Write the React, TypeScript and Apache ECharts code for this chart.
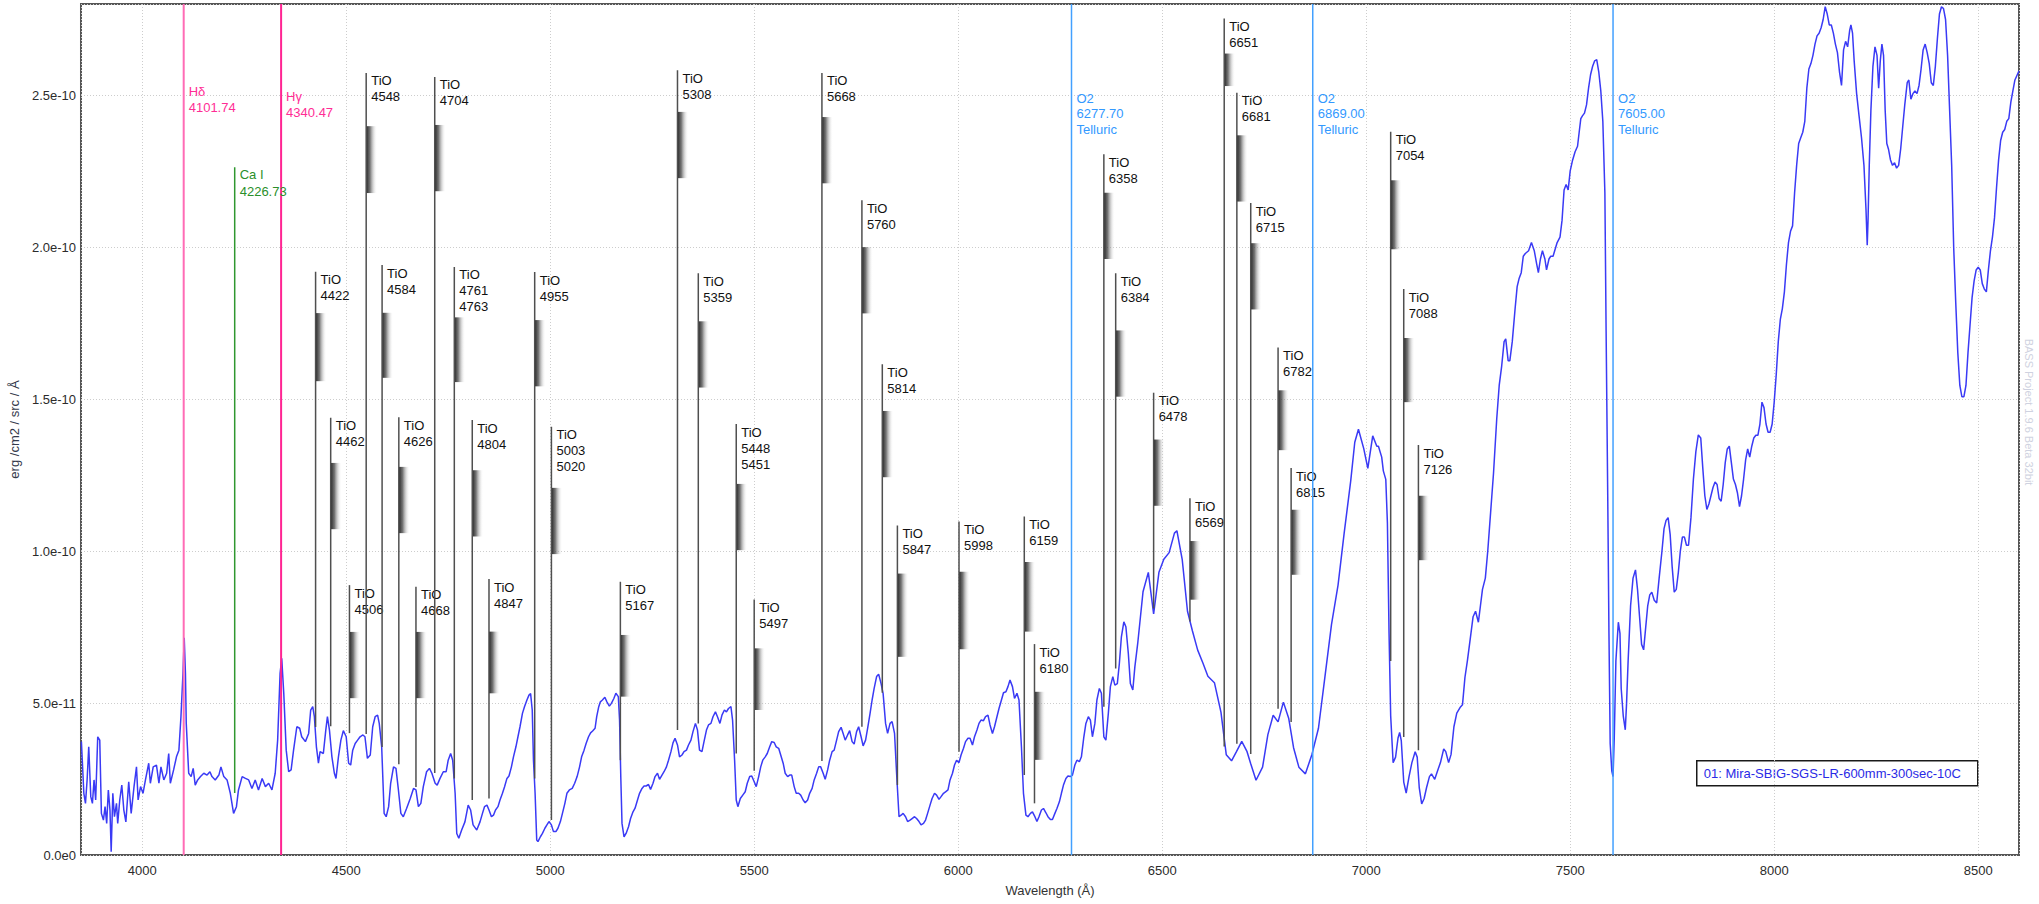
import React, { useEffect, useRef } from "react";
import * as echarts from "echarts";

// ---------- data ----------
const FLUX_UNIT = 1e-12; // flux values below are in units of 1e-12 erg/cm2/s/Å

const WAVELENGTH = [
  3851, 3857, 3861, 3865, 3869, 3874, 3878, 3882, 3886, 3891, 3896, 3900, 3905, 3909, 3913, 3917, 3921, 3924, 3928, 3932,
  3937, 3940, 3945, 3950, 3955, 3960, 3967, 3973, 3980, 3986, 3990, 3996, 4002, 4008, 4016, 4020, 4027, 4035, 4041, 4046,
  4053, 4060, 4065, 4069, 4077, 4084, 4090, 4095, 4100, 4103, 4106, 4108, 4114, 4120, 4125, 4130, 4136, 4143, 4151, 4159,
  4166, 4171, 4179, 4188, 4193, 4200, 4208, 4216, 4224, 4231, 4236, 4245, 4253, 4261, 4269, 4277, 4285, 4294, 4302, 4310,
  4318, 4326, 4332, 4338, 4342, 4347, 4353, 4359, 4365, 4371, 4379, 4386, 4391, 4400, 4408, 4413, 4418, 4422, 4427, 4432,
  4436, 4444, 4450, 4454, 4459, 4465, 4471, 4475, 4481, 4487, 4493, 4500, 4506, 4511, 4516, 4522, 4528, 4534, 4541, 4546,
  4552, 4559, 4565, 4571, 4577, 4581, 4587, 4593, 4598, 4604, 4609, 4616, 4622, 4628, 4634, 4640, 4648, 4657, 4665, 4671,
  4677, 4683, 4689, 4697, 4704, 4710, 4718, 4723, 4730, 4738, 4745, 4750, 4756, 4761, 4767, 4771, 4776, 4783, 4791, 4799,
  4805, 4811, 4820, 4828,
  4834, 4839, 4845, 4850, 4856, 4861, 4866, 4872, 4877, 4883, 4888, 4894, 4899, 4905, 4910, 4916, 4921, 4926, 4932, 4937,
  4943, 4948, 4952, 4956, 4959, 4963, 4967, 4970, 4976, 4981, 4987, 4992, 4997, 5003, 5008, 5014, 5019, 5025, 5030, 5036,
  5041, 5047, 5054, 5060, 5066, 5072, 5077, 5083, 5088, 5094, 5099, 5104, 5110, 5114, 5119, 5123, 5128, 5134, 5139, 5145,
  5150, 5156, 5161, 5167, 5170, 5173, 5176, 5181, 5186, 5192, 5197, 5203, 5208, 5214, 5219, 5225, 5230, 5235, 5241, 5246,
  5252, 5257, 5263, 5268, 5274, 5279, 5285, 5290, 5296, 5301, 5306, 5312, 5317, 5323, 5328, 5334, 5339, 5345, 5350, 5356,
  5361, 5366, 5372, 5377, 5383, 5388, 5394, 5399, 5405, 5410, 5416, 5421, 5427, 5432, 5437, 5443, 5447, 5452, 5456, 5460,
  5466, 5472, 5478, 5483, 5489, 5494, 5500, 5505, 5511, 5516, 5521, 5527, 5532, 5538, 5543, 5549, 5554, 5560, 5565, 5571,
  5576, 5582, 5587, 5592, 5598, 5603, 5609, 5614, 5620, 5625, 5631, 5636, 5642, 5647, 5653, 5658, 5663, 5669, 5674, 5680,
  5685, 5691, 5696, 5702, 5707, 5713, 5718, 5723, 5729, 5734, 5740, 5745, 5751, 5756, 5762, 5767, 5773, 5778, 5784, 5789,
  5794, 5800, 5805, 5811, 5816, 5822, 5827, 5833, 5838, 5844, 5849, 5855, 5860, 5865, 5871, 5876, 5882, 5887, 5893, 5898,
  5904, 5909, 5915, 5920, 5925, 5931, 5936, 5942, 5947, 5953, 5958, 5964, 5969, 5975, 5980, 5986, 5991, 5996, 6002, 6007,
  6013, 6018, 6024, 6029, 6035, 6040, 6046, 6051, 6056, 6062, 6067, 6073, 6078, 6084, 6089, 6095, 6100, 6106, 6111, 6117,
  6122, 6127, 6133, 6138, 6144, 6149, 6155, 6160, 6166, 6171, 6177, 6182, 6188, 6193, 6198, 6204, 6209, 6215, 6220, 6226,
  6231, 6237, 6242, 6248, 6253, 6258, 6264, 6269, 6275, 6280, 6286, 6291, 6297, 6302, 6308, 6313, 6319, 6324, 6329, 6335,
  6340, 6346, 6351, 6357, 6362, 6368, 6373, 6379, 6384, 6390, 6395, 6400, 6406, 6411, 6417, 6422, 6428, 6433, 6440,
  6453, 6466, 6479, 6492, 6504, 6517, 6530, 6536, 6549, 6562, 6574, 6587, 6600, 6612, 6628, 6644, 6657, 6670, 6682, 6695,
  6708, 6717, 6730, 6746, 6759, 6772, 6784, 6797, 6810, 6822, 6835, 6851, 6867, 6883, 6899, 6915, 6931, 6946, 6962, 6972,
  6981, 6994, 7004, 7016, 7026,
  7030, 7038, 7042, 7048, 7052, 7056, 7060, 7066, 7072, 7078, 7082, 7086, 7092, 7098, 7105, 7112, 7120, 7125, 7130, 7136,
  7142, 7148, 7155, 7160, 7168, 7175, 7182, 7190, 7195, 7202, 7208, 7215, 7222, 7230, 7236, 7242, 7248, 7255, 7262, 7268,
  7275, 7280, 7285, 7292, 7298, 7305, 7312, 7320, 7326, 7332, 7338, 7342, 7348, 7352, 7358, 7365, 7370, 7375, 7380, 7385,
  7390, 7398, 7405, 7412, 7418, 7422, 7427, 7432, 7438, 7442, 7448, 7452, 7458, 7462, 7468, 7475, 7480, 7485, 7490, 7495,
  7500, 7506, 7512, 7518, 7522, 7526, 7530, 7535, 7540, 7545, 7550, 7555, 7560, 7565, 7570, 7575, 7580, 7585, 7588, 7592,
  7595, 7598, 7602, 7605, 7608, 7612, 7618, 7622, 7625, 7630, 7635, 7638, 7642, 7648, 7654, 7660, 7665, 7670, 7675, 7680,
  7685, 7690, 7695, 7700, 7706, 7712, 7718, 7725, 7730, 7735, 7740, 7745, 7750, 7755, 7760, 7765, 7770, 7775, 7780, 7785,
  7790, 7796, 7802, 7808, 7814, 7820, 7825, 7830, 7835, 7840, 7845, 7850, 7855, 7860, 7865, 7870, 7875, 7880, 7885, 7890,
  7895, 7900, 7905, 7910, 7915, 7920, 7925, 7930, 7935, 7940, 7945, 7950, 7955, 7960, 7965, 7970, 7975, 7980, 7985, 7990,
  7995, 8000, 8005, 8010, 8015, 8020, 8025, 8030, 8035, 8040, 8045, 8050, 8055, 8060, 8065, 8070, 8075, 8080, 8085, 8090,
  8095, 8100, 8105, 8110, 8115, 8120, 8125, 8130, 8135, 8140, 8145, 8150, 8155, 8160, 8165, 8170, 8175, 8180, 8185, 8188,
  8192, 8196, 8202, 8208, 8214, 8220, 8225, 8228, 8230, 8233, 8237, 8242, 8247, 8252, 8256, 8260, 8264, 8268, 8272, 8276,
  8280, 8285, 8290, 8295, 8300, 8305, 8310, 8315, 8320, 8326, 8330, 8335, 8340, 8345, 8350, 8355, 8360, 8365, 8370, 8375,
  8380, 8385, 8390, 8395, 8400, 8405, 8410, 8415, 8420, 8425, 8430, 8435, 8440, 8445, 8450, 8455, 8460, 8465, 8470, 8475,
  8480, 8485, 8490, 8495, 8500, 8505, 8510, 8515, 8520, 8525, 8530, 8535, 8540, 8545, 8550, 8555, 8560, 8565, 8570, 8575,
  8580, 8585, 8590, 8596, 8600,
];

const FLUX = [
  37.3, 20.3, 17.0, 24.7, 35.6, 19.2, 17.0, 24.7, 18.1, 38.9, 37.8, 13.7, 11.5, 15.9, 10.4, 21.4, 14.8, 1.1, 20.3, 12.6,
  17.0, 10.4, 18.1, 23.0, 14.8, 10.9, 24.1, 13.7, 22.5, 29.0, 18.1, 22.5, 20.3, 24.7, 30.2, 23.6, 29.0, 29.6, 23.6, 29.0,
  24.7, 26.9, 33.4, 23.6, 28.0, 32.3, 34.5, 45.5, 59.8, 71.5, 59.8, 43.3, 26.9, 25.8, 28.5, 23.0, 24.7, 25.8, 26.9, 26.3,
  27.4, 25.8, 24.7, 26.3, 29.0, 25.8, 24.7, 20.3, 13.7, 15.9, 21.4, 25.8, 25.2, 24.7, 21.9, 24.7, 21.4, 25.2, 22.5, 23.6,
  21.4, 26.9, 37.8, 59.8, 64.7, 53.2, 34.5, 27.4, 28.0, 34.5, 42.2, 41.7, 38.9, 37.3, 40.0, 47.7, 48.8, 45.5, 35.6, 30.2,
  34.0, 33.4, 41.1, 45.5, 41.1, 32.3, 26.9, 25.2, 32.3, 37.8, 40.9, 38.9, 30.2, 29.6, 34.5, 36.7, 37.8, 38.9, 39.5, 38.9,
  31.8, 32.9, 42.2, 45.5, 46.0, 43.3, 35.6, 13.7, 12.6, 15.9, 23.6, 29.0, 28.5, 21.4, 13.7, 12.6, 15.3, 18.6, 21.9, 21.4,
  15.9, 17.0, 22.5, 27.4, 28.5, 26.9, 23.6, 23.0, 25.2, 27.4, 27.4, 31.2, 33.4, 31.2, 20.3, 7.1, 5.5, 8.2, 10.9, 16.4,
  14.8, 9.9, 8.2, 10.9,
  13.7, 15.9, 16.4, 14.8, 12.6, 13.1, 14.8, 15.9, 18.1, 20.3, 22.4, 25.2, 26.0, 29.0, 32.3, 35.6, 38.9, 42.2, 46.6, 48.8,
  51.0, 52.6, 53.1, 47.7, 31.2, 20.3, 4.9, 4.4, 6.0, 7.1, 8.8, 9.9, 11.0, 9.9, 7.7, 7.7, 8.8, 11.0, 13.7, 17.0,
  20.3, 21.4, 21.9, 23.6, 25.8, 29.0, 32.3, 34.5, 36.7, 38.9, 40.2, 40.8, 41.7, 45.5, 48.8, 50.4, 51.0, 51.9, 50.4, 49.0,
  49.9, 51.5, 53.2, 52.1, 44.4, 25.8, 10.4, 6.0, 7.1, 9.3, 12.0, 14.2, 15.4, 18.1, 20.3, 21.9, 22.7, 22.7, 23.2, 21.6,
  23.6, 25.8, 26.9, 24.9, 26.3, 27.4, 29.0, 31.2, 34.0, 36.9, 38.4, 36.2, 32.3, 32.9, 34.0, 34.5, 36.2, 37.8, 40.6, 43.3,
  41.1, 34.5, 34.0, 37.3, 41.1, 42.8, 43.3, 45.5, 47.1, 45.5, 43.3, 46.0, 47.7, 47.1, 48.2, 48.8, 44.4, 31.2, 18.1, 15.9,
  18.6, 19.7, 20.8, 23.6, 25.8, 26.0, 24.1, 22.5, 25.8, 29.0, 31.2, 32.3, 33.4, 35.6, 37.3, 37.0, 35.6, 35.1, 32.9, 30.2,
  26.9, 25.8, 26.3, 26.3, 22.5, 20.3, 20.3, 19.7, 18.1, 17.2, 18.1, 20.3, 21.9, 24.7, 26.9, 29.0, 29.0, 26.9, 24.9, 28.0,
  31.2, 34.0, 34.5, 37.8, 40.6, 42.0, 40.0, 37.8, 39.5, 40.9, 37.3, 36.5, 40.6, 42.2, 38.9, 35.9, 37.8, 41.7, 46.6, 51.0,
  54.8, 58.7, 59.5, 56.4, 53.1, 43.3, 40.0, 43.3, 43.9, 40.0, 26.9, 12.6, 13.1, 13.7, 12.6, 11.0, 11.5, 12.0, 12.6, 12.0,
  11.0, 9.9, 10.4, 11.5, 13.7, 16.4, 18.6, 20.3, 19.7, 18.3, 19.2, 20.3, 20.8, 21.4, 24.7, 26.9, 29.6, 31.2, 30.4, 32.9,
  35.1, 37.3, 38.4, 38.4, 36.2, 38.9, 41.1, 43.3, 44.4, 44.2, 45.5, 46.0, 42.8, 40.0, 42.2, 45.5, 48.2, 51.0, 53.4, 53.7,
  55.4, 57.6, 55.4, 51.5, 53.2, 51.0, 35.6, 20.3, 13.1, 12.6, 13.7, 14.2, 12.6, 11.0, 12.6, 14.8, 15.3, 13.9, 12.6, 11.7,
  11.7, 13.7, 15.3, 17.5, 20.3, 23.0, 25.2, 26.0, 25.8, 26.3, 29.6, 31.2, 30.7, 32.3, 38.9, 43.3, 45.5, 44.4, 38.9, 43.3,
  51.0, 54.8, 53.2, 38.9, 37.8, 46.6, 55.4, 58.7, 55.9, 56.4, 63.0, 71.8, 76.7, 75.1, 66.3, 56.4, 54.3, 61.9, 69.6,
  86.6, 93.0, 79.3, 93.0, 97.3, 99.5, 105.9, 106.7, 97.3, 80.2, 73.8, 67.4, 63.1, 58.8, 56.7, 47.0, 33.0, 31.0, 34.0, 37.4,
  34.0, 30.0, 24.6, 28.9, 39.6, 46.0, 43.8, 50.3, 45.0, 35.3, 28.9, 26.7, 33.1, 41.7, 58.8, 75.9, 88.8, 105.9, 123.0, 135.8,
  140.1, 133.7, 127.2, 137.9, 134.5,
  134.5, 130.9, 126.4, 123.6, 109.2, 73.0, 45.8, 30.4, 32.2, 38.5, 40.3, 37.6, 24.0, 20.4, 25.8, 30.4, 34.0, 32.2, 22.2, 16.8,
  18.6, 22.2, 25.8, 26.7, 24.9, 27.7, 30.4, 34.9, 34.0, 30.4, 33.1, 42.2, 46.7, 48.5, 49.4, 58.4, 63.9, 71.1, 78.4, 80.2,
  76.6, 82.0, 87.4, 91.1, 100.1, 112.8, 125.5, 143.6, 154.5, 160.8, 168.9, 169.8, 162.6, 162.6, 168.9, 179.8, 187.0, 189.8, 191.6, 197.0,
  197.9, 198.8, 201.5, 198.8, 194.3, 191.6, 196.1, 198.8, 196.1, 192.5, 196.1, 197.0, 197.0, 198.8, 201.5, 203.3, 208.8, 218.8, 220.6, 218.8,
  225.1, 228.7, 231.4, 233.2, 237.8, 242.3, 243.2, 244.1, 246.8, 252.3, 256.8, 259.5, 261.3, 261.7, 257.7, 251.4, 241.4, 217.9, 172.6, 118.2,
  72.9, 36.7, 27.6, 25.8, 38.5, 63.9, 76.6, 72.9, 54.8, 45.8, 41.2, 49.4, 63.9, 82.0, 91.1, 93.8, 87.4, 78.4, 69.3, 67.5,
  74.8, 82.0, 85.6, 86.5, 83.8, 82.9, 91.1, 100.1, 107.4, 110.1, 111.0, 105.5, 94.7, 86.5, 87.4, 92.9, 100.1, 104.6, 104.6, 101.9,
  101.9, 111.0, 123.7, 132.7, 138.2, 137.2, 127.3, 118.2, 113.7, 115.5, 118.2, 120.9, 122.7, 121.9, 117.3, 116.4, 121.9, 129.1, 133.6, 134.5,
  129.1, 123.7, 121.9, 119.1, 114.6, 118.2, 123.7, 130.0, 133.6, 130.9, 134.5, 137.2, 138.1, 138.1, 141.8, 149.0, 147.2, 141.8, 139.1, 139.1,
  141.8, 149.0, 158.1, 168.9, 176.2, 179.8, 185.3, 194.3, 201.5, 205.2, 207.0, 217.9, 226.9, 234.1, 236.0, 237.8, 241.4, 252.3, 258.6, 260.4,
  263.1, 266.8, 269.5, 270.4, 272.2, 274.9, 279.1, 276.7, 273.1, 273.1, 270.4, 266.8, 264.0, 257.7, 253.2, 264.9, 267.7, 265.9, 271.3, 273.1,
  270.4, 261.3, 250.5, 243.2, 236.0, 226.9, 212.4, 200.6, 208.8, 226.9, 245.0, 259.5, 265.9, 263.1, 252.3, 261.3, 266.8, 263.1, 245.0, 234.1,
  232.3, 228.7, 226.9, 227.8, 226.0, 226.9, 232.3, 239.6, 246.8, 254.1, 255.0, 248.7, 250.5, 251.4, 250.5, 253.2, 258.6, 264.9, 266.8, 264.0,
  260.4, 254.1, 253.2, 259.5, 268.6, 276.7, 279.1, 278.5, 274.9, 263.1, 245.0, 226.9, 199.7, 181.6, 165.3, 154.5, 150.8, 150.8, 154.5, 165.3,
  174.4, 183.4, 188.9, 192.5, 193.4, 192.5, 188.0, 186.2, 185.3, 192.5, 198.8, 203.4, 209.7, 219.7, 228.7, 235.1, 237.8, 238.7, 241.4, 242.3,
  247.7, 251.4, 255.0, 256.8, 258.0,
];

// TiO band markers (line position in Å, label, line top, shaded bar top/bottom, line bottom; flux units of 1e-12)
const TIO_POS = [
  4425, 4462, 4508, 4549, 4588, 4629, 4671, 4717, 4765, 4809, 4850, 4962, 5003, 5172, 5312, 5363, 5456, 5500, 5666, 5764,
  5814, 5851, 6002, 6162, 6187, 6357, 6386, 6479, 6568, 6652, 6683, 6717, 6784, 6816, 7060, 7092, 7128,
];
const TIO_LABELS = [
  "4422", "4462", "4506", "4548", "4584", "4626", "4668", "4704", "4761\n4763", "4804", "4847", "4955", "5003\n5020", "5167",
  "5308", "5359", "5448\n5451", "5497", "5668", "5760", "5814", "5847", "5998", "6159", "6180", "6358", "6384", "6478", "6569",
  "6651", "6681", "6715", "6782", "6815", "7054", "7088", "7126",
];
const TIO_TOP = [
  191.9, 143.9, 88.8, 257.3, 194.1, 144.0, 88.3, 256.0, 193.5, 143.1, 90.8, 191.8, 140.9, 89.9, 258.2, 191.4, 141.8, 84.1, 257.3, 215.4,
  161.5, 108.4, 109.7, 111.4, 69.4, 230.6, 191.4, 152.1, 117.4, 275.2, 250.8, 214.5, 167.0, 127.3, 238.0, 186.2, 134.9,
];
const TIO_BAR_TOP = [
  178.3, 129.0, 73.4, 239.8, 178.4, 127.7, 73.4, 240.2, 176.9, 126.6, 73.5, 176.0, 120.8, 72.4, 244.5, 175.6, 122.1, 68.0, 242.8, 200.0,
  146.1, 92.6, 93.2, 96.4, 53.7, 217.9, 172.6, 136.7, 103.3, 263.7, 236.8, 201.3, 152.9, 113.6, 222.0, 170.1, 118.2,
];
const TIO_BAR_BOTTOM = [
  155.9, 107.2, 51.6, 217.8, 157.0, 105.9, 51.6, 218.4, 155.6, 104.8, 53.2, 154.2, 99.0, 52.1, 222.7, 153.8, 100.3, 47.7, 221.0, 178.2,
  124.3, 65.2, 67.7, 73.5, 31.3, 196.1, 150.8, 114.9, 84.0, 253.0, 215.0, 179.5, 133.2, 92.2, 199.3, 149.0, 97.0,
];
const TIO_BOTTOM = [
  42.1, 42.4, 40.1, 39.8, 35.5, 29.9, 22.4, 27.0, 25.2, 18.1, 18.6, 25.2, 11.5, 31.2, 41.1, 43.3, 33.4, 27.7, 30.9, 42.2,
  53.4, 23.0, 34.0, 26.3, 17.0, 48.8, 61.4, 81.1, 76.8, 35.7, 36.6, 33.2, 48.1, 43.8, 63.8, 38.8, 34.5,
];

// Reference lines (atomic lines and telluric bands)
const REF_NAMES = ["Hδ", "Hγ", "Ca I", "O2", "O2", "O2"];
const REF_WAVELENGTHS = [4101.74, 4340.47, 4226.73, 6277.7, 6869.0, 7605.0];
const REF_NOTES = ["", "", "", "Telluric", "Telluric", "Telluric"];
const REF_KINDS = ["hdelta", "hgamma", "ca", "o2", "o2", "o2"];
const REF_LINE_TOP = [280, 280, 226.3, 280, 280, 280];
const REF_LINE_BOTTOM = [0, 0, 20.4, 0, 0, 0];
const REF_LABEL_TOP = [254.0, 252.3, 226.6, 251.6, 251.6, 251.6];

const X_MIN = 3850;
const X_MAX = 8600;
const Y_MAX = 2.8e-10;
const Y_STEP = 5e-11;

const SERIES_NAME = "01: Mira-SBIG-SGS-LR-600mm-300sec-10C";
const X_TITLE = "Wavelength (Å)";
const Y_TITLE = "erg /cm2 / src / Å";
const WATERMARK = "BASS Project 1.9.6 Beta 32bit";

// ---------- styles ----------
const FONT = "Liberation Sans";
const REF_STYLE: Record<string, { line: string; text: string; width: number; lh: number }> = {
  hdelta: { line: "#ff6cb5", text: "#ff2d95", width: 2, lh: 16 },
  hgamma: { line: "#ff2492", text: "#ff2d95", width: 2, lh: 16 },
  ca: { line: "#2f972f", text: "#2a8f2a", width: 1.5, lh: 17 },
  o2: { line: "#42a0ff", text: "#3399ff", width: 1.5, lh: 15.7 },
};

export default function App() {
  const ref = useRef<HTMLDivElement>(null);

  useEffect(() => {
    if (!ref.current) return;
    const chart = echarts.init(ref.current, undefined, { renderer: "svg" });

    const n = Math.min(WAVELENGTH.length, FLUX.length);
    const spectrum = WAVELENGTH.slice(0, n).map((w, i) => [w, FLUX[i] * FLUX_UNIT]);
    const tioData = TIO_POS.map((p, i) => [
      p,
      TIO_TOP[i] * FLUX_UNIT,
      TIO_BAR_TOP[i] * FLUX_UNIT,
      TIO_BAR_BOTTOM[i] * FLUX_UNIT,
      TIO_BOTTOM[i] * FLUX_UNIT,
    ]);
    const refData = REF_WAVELENGTHS.map((w, i) => [
      w,
      REF_LINE_TOP[i] * FLUX_UNIT,
      REF_LINE_BOTTOM[i] * FLUX_UNIT,
      REF_LABEL_TOP[i] * FLUX_UNIT,
    ]);

    const option: any = {
      animation: false,
      backgroundColor: "#ffffff",
      textStyle: { fontFamily: FONT },
      grid: {
        left: 80,
        right: 20,
        top: 4,
        bottom: 49,
        show: true,
        borderColor: "#555555",
        borderWidth: 2,
        backgroundColor: "transparent",
      },
      xAxis: {
        type: "value",
        min: X_MIN,
        max: X_MAX,
        splitNumber: 10,
        name: X_TITLE,
        nameLocation: "middle",
        nameGap: 29,
        nameTextStyle: { color: "#333333", fontSize: 13, fontFamily: FONT },
        axisLine: { show: false },
        axisTick: { show: false },
        axisLabel: {
          color: "#2b2b2b",
          fontSize: 13,
          fontFamily: FONT,
          margin: 9,
          showMinLabel: false,
          showMaxLabel: false,
          formatter: (v: number) => String(Math.round(v)),
        },
        splitLine: { show: true, lineStyle: { color: "#cdcdcd", type: [1, 2], width: 1 } },
      },
      yAxis: {
        type: "value",
        min: 0,
        max: Y_MAX,
        interval: Y_STEP,
        name: Y_TITLE,
        nameLocation: "middle",
        nameGap: 52,
        nameTextStyle: { color: "#33394a", fontSize: 13, fontFamily: FONT },
        axisLine: { show: false },
        axisTick: { show: false },
        axisLabel: {
          color: "#2b2b2b",
          fontSize: 13,
          fontFamily: FONT,
          margin: 5,
          showMaxLabel: false,
          formatter: (v: number) => (v === 0 ? "0.0e0" : v.toExponential(1)),
        },
        splitLine: { show: true, lineStyle: { color: "#cdcdcd", type: [1, 2], width: 1 } },
      },
      series: [
        {
          name: SERIES_NAME,
          type: "line",
          data: spectrum,
          showSymbol: false,
          symbol: "none",
          clip: true,
          z: 3,
          lineStyle: { color: "#3a3af5", width: 1.5 },
          silent: true,
        },
        {
          type: "custom",
          data: tioData,
          clip: true,
          z: 4,
          silent: true,
          renderItem: (params: any, api: any) => {
            const i = params.dataIndex;
            const x = api.coord([api.value(0), 0])[0];
            const yTop = api.coord([X_MIN, api.value(1)])[1];
            const yBarTop = api.coord([X_MIN, api.value(2)])[1];
            const yBarBot = api.coord([X_MIN, api.value(3)])[1];
            const yBot = api.coord([X_MIN, api.value(4)])[1];
            return {
              type: "group",
              children: [
                {
                  type: "rect",
                  shape: { x: x, y: yBarTop, width: 11, height: yBarBot - yBarTop },
                  style: {
                    fill: new echarts.graphic.LinearGradient(0, 0, 1, 0, [
                      { offset: 0, color: "rgba(25,25,25,0.95)" },
                      { offset: 0.35, color: "rgba(60,60,60,0.7)" },
                      { offset: 1, color: "rgba(255,255,255,0)" },
                    ]),
                  },
                },
                {
                  type: "line",
                  shape: { x1: x, y1: yTop, x2: x, y2: yBot },
                  style: { stroke: "#4f4f4f", lineWidth: 1.5 },
                },
                {
                  type: "text",
                  x: x + 5,
                  y: yTop,
                  style: {
                    text: "TiO\n" + TIO_LABELS[i],
                    fill: "#111111",
                    fontSize: 13,
                    fontFamily: FONT,
                    lineHeight: 16,
                    align: "left",
                    verticalAlign: "top",
                  },
                },
              ],
            };
          },
        },
        {
          type: "custom",
          data: refData,
          clip: true,
          z: 5,
          silent: true,
          renderItem: (params: any, api: any) => {
            const i = params.dataIndex;
            const st = REF_STYLE[REF_KINDS[i]];
            const x = api.coord([api.value(0), 0])[0];
            const yTop = api.coord([X_MIN, api.value(1)])[1];
            const yBot = api.coord([X_MIN, api.value(2)])[1];
            const yLab = api.coord([X_MIN, api.value(3)])[1];
            const lines = [REF_NAMES[i], REF_WAVELENGTHS[i].toFixed(2)];
            if (REF_NOTES[i]) lines.push(REF_NOTES[i]);
            return {
              type: "group",
              children: [
                {
                  type: "line",
                  shape: { x1: x, y1: yTop, x2: x, y2: yBot },
                  style: { stroke: st.line, lineWidth: st.width },
                },
                {
                  type: "text",
                  x: x + 5,
                  y: yLab,
                  style: {
                    text: lines.join("\n"),
                    fill: st.text,
                    fontSize: 13,
                    fontFamily: FONT,
                    lineHeight: st.lh,
                    align: "left",
                    verticalAlign: "top",
                  },
                },
              ],
            };
          },
        },
      ],
      graphic: [
        {
          type: "group",
          left: 1696,
          top: 760,
          z: 100,
          children: [
            {
              type: "rect",
              shape: { x: 0, y: 0, width: 281, height: 25 },
              style: { fill: "#ffffff", stroke: "#1a1a1a", lineWidth: 1.5 },
            },
            {
              type: "text",
              x: 7,
              y: 13,
              style: {
                text: SERIES_NAME,
                fill: "#2a2ae6",
                fontSize: 13,
                fontFamily: FONT,
                verticalAlign: "middle",
                align: "left",
              },
            },
          ],
        },
        {
          type: "text",
          x: 2029,
          y: 412,
          rotation: -Math.PI / 2,
          z: 100,
          style: {
            text: WATERMARK,
            fill: "#cfd2e0",
            fontSize: 11,
            fontFamily: FONT,
            align: "center",
            verticalAlign: "middle",
          },
        },
      ],
    };

    chart.setOption(option);
    return () => {
      chart.dispose();
    };
  }, []);

  return (
    <div
      ref={ref}
      style={{ position: "fixed", left: 0, top: 0, width: 2039, height: 904, background: "#fff" }}
    />
  );
}
